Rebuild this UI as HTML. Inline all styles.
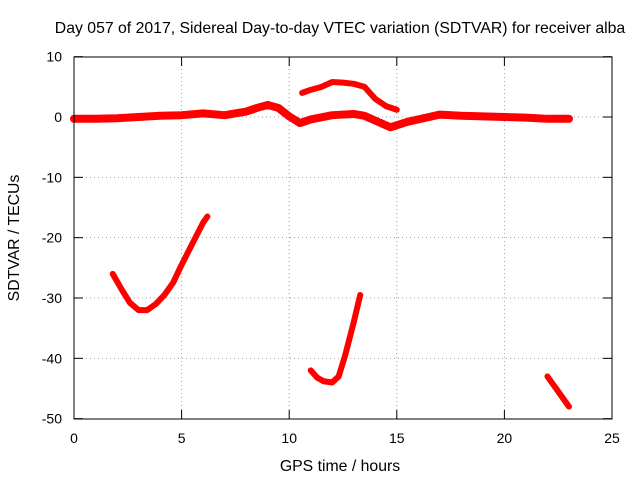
<!DOCTYPE html>
<html><head><meta charset="utf-8"><style>
body{margin:0;background:#fff;}
svg text{font-family:"Liberation Sans",sans-serif;font-size:14px;fill:#000;}
svg text.big{font-size:15.8px;}
</style></head><body>
<svg id="chart" width="640" height="480" xmlns="http://www.w3.org/2000/svg">
<rect width="640" height="480" fill="#fff"/>
<text class="big" x="340" y="33" text-anchor="middle">Day 057 of 2017, Sidereal Day-to-day VTEC variation (SDTVAR) for receiver alba</text>
<text class="big" x="340" y="471" text-anchor="middle">GPS time / hours</text>
<text class="big" transform="translate(19,238) rotate(-90)" text-anchor="middle">SDTVAR / TECUs</text>
<g id="grid"></g>
<g id="ticks"></g>
<g id="series"></g>
<rect x="74" y="57" width="538" height="362" fill="none" stroke="#000" stroke-width="1"/>
</svg>
<script>
const xTicks=[0,5,10,15,20,25];
const yTicks=[10,0,-10,-20,-30,-40,-50];
const baselineT=[0,1,2,3,4,5,6,7,8,8.5,9,9.5,10,10.5,11,12,13,13.5,14,14.7,15.5,16.5,17,18,19,20,21,22,23];
const baselineV=[-0.3,-0.3,-0.2,0,0.2,0.3,0.6,0.3,0.9,1.5,2,1.5,0.1,-1,-0.4,0.3,0.5,0.2,-0.6,-1.7,-0.8,0,0.4,0.2,0.1,0,-0.1,-0.3,-0.3];
const arcT=[10.6,11,11.5,12,12.5,13,13.5,14,14.5,15];
const arcV=[4,4.5,5,5.8,5.7,5.5,5,3,1.8,1.2];
const c1T=[1.8,2.2,2.6,3,3.4,3.8,4.2,4.6,5,5.5,6,6.2];
const c1V=[-26,-28.5,-30.8,-32,-32,-31,-29.5,-27.5,-24.5,-21,-17.5,-16.5];
const c2T=[11,11.3,11.6,12,12.3,12.6,13,13.3];
const c2V=[-42,-43.2,-43.8,-44,-43,-39.5,-34,-29.5];
const c3T=[22,22.5,23];
const c3V=[-43,-45.5,-48];
const X=t=>74+t*(538/25), Y=v=>117-v*(362/60);
const NS="http://www.w3.org/2000/svg";
const grid=document.getElementById('grid'),ticks=document.getElementById('ticks'),ser=document.getElementById('series');
function mk(tag,attrs,parent){const e=document.createElementNS(NS,tag);for(const k in attrs)e.setAttribute(k,attrs[k]);parent.appendChild(e);return e;}
xTicks.forEach(t=>{const x=X(t);
 if(t>0&&t<25){const g=mk('line',{x1:x,x2:x,y1:57,y2:419,stroke:'#a0a0a0','stroke-dasharray':'1,3'},grid);
 
 }
 mk('line',{x1:x,x2:x,y1:419,y2:410,stroke:'#000'},ticks);mk('line',{x1:x,x2:x,y1:57,y2:66,stroke:'#000'},ticks);
 const l=mk('text',{x:x,y:443,'text-anchor':'middle'},ticks);l.textContent=t;
 
 });
yTicks.forEach(v=>{const y=Y(v);
 if(v<10&&v>-50){const g=mk('line',{x1:74,x2:612,y1:y,y2:y,stroke:'#a0a0a0','stroke-dasharray':'1,3'},grid);
 
 }
 mk('line',{x1:74,x2:83,y1:y,y2:y,stroke:'#000'},ticks);mk('line',{x1:612,x2:603,y1:y,y2:y,stroke:'#000'},ticks);
 const l=mk('text',{x:62,y:y+5,'text-anchor':'end'},ticks);l.textContent=v;
 
 });
function draw(T,V,name,w){const pts=T.map((t,i)=>X(t)+','+Y(V[i])).join(' ');
 const p=mk('polyline',{points:pts,fill:'none',stroke:'#f00','stroke-width':w,'stroke-linejoin':'round','stroke-linecap':'round'},ser);
 
 }
draw(baselineT,baselineV,'series-baseline',8);
draw(arcT,arcV,'series-upper-arc',6);
draw(c1T,c1V,'series-arc-1',6);
draw(c2T,c2V,'series-arc-2',6);
draw(c3T,c3V,'series-arc-3',6);
</script>
</body></html>
